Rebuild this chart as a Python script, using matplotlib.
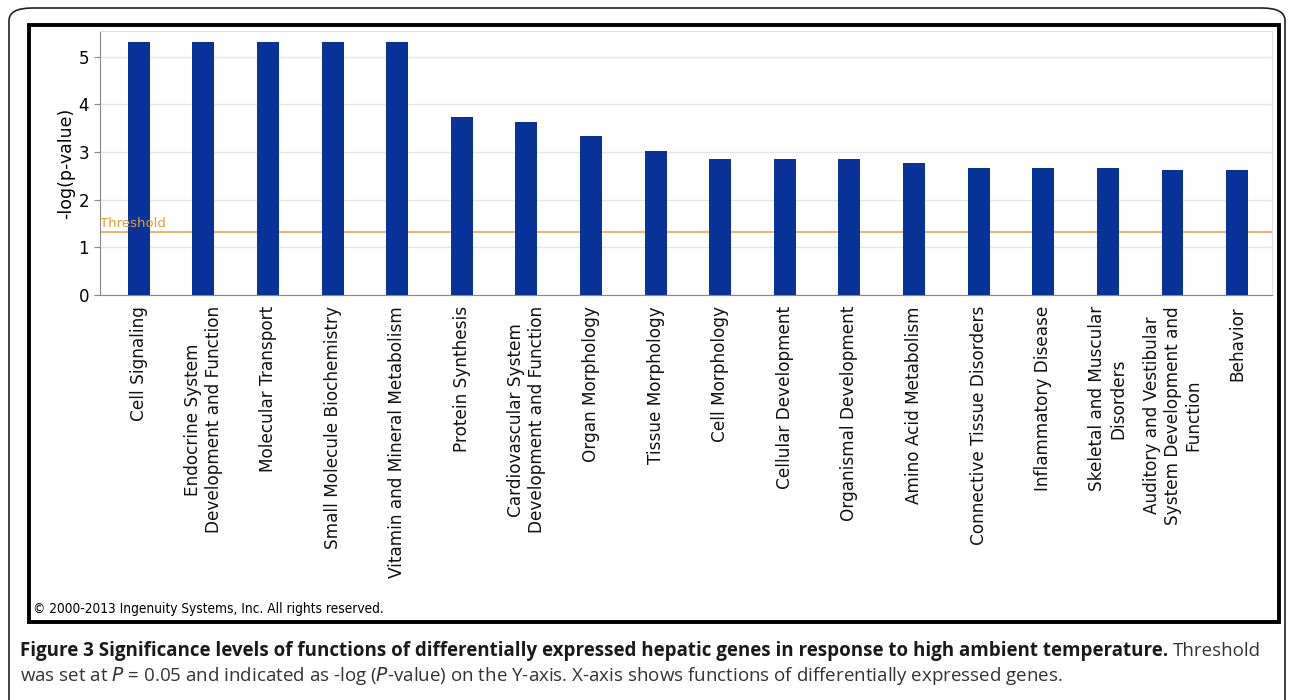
import matplotlib.pyplot as plt
from matplotlib.patches import FancyBboxPatch, Rectangle

# categories and -log(p-value)
functions = [
    "Cell Signaling",
    "Endocrine System\nDevelopment and Function",
    "Molecular Transport",
    "Small Molecule Biochemistry",
    "Vitamin and Mineral Metabolism",
    "Protein Synthesis",
    "Cardiovascular System\nDevelopment and Function",
    "Organ Morphology",
    "Tissue Morphology",
    "Cell Morphology",
    "Cellular Development",
    "Organismal Development",
    "Amino Acid Metabolism",
    "Connective Tissue Disorders",
    "Inflammatory Disease",
    "Skeletal and Muscular\nDisorders",
    "Auditory and Vestibular\nSystem Development and\nFunction",
    "Behavior",
]
neglogp = [5.30, 5.30, 5.30, 5.30, 5.30, 3.74, 3.63, 3.33, 3.02, 2.86,
           2.86, 2.86, 2.76, 2.67, 2.67, 2.67, 2.63, 2.63]
threshold = 1.32
yticks = [0, 1, 2, 3, 4, 5]

W, H = 1290, 700
fig = plt.figure(figsize=(W / 100, H / 100), dpi=100)

# outer rounded frame and inner black frame
outer = FancyBboxPatch((9 / W, 1 - 740 / H), 1276 / W, 732 / H,
                       boxstyle="round,pad=0,rounding_size=0.018",
                       transform=fig.transFigure, fill=False,
                       ec="#222222", lw=1.2)
fig.patches.append(outer)
inner = Rectangle((29 / W, 1 - 622 / H), 1250 / W, 597 / H,
                  transform=fig.transFigure, fill=False, ec="black", lw=2.8)
fig.patches.append(inner)

ax = fig.add_axes([100 / W, 1 - 295 / H, 1172 / W, 264 / H])
x = list(range(len(functions)))
ax.bar(x, neglogp, width=0.34, color="#0a3399", zorder=3)
ax.axhline(threshold, color="#e8b060", lw=1.3, zorder=2)
ax.text(-0.6, threshold + 0.05, "Threshold", color="#e0a030", fontsize=9.5,
        ha="left", va="bottom", zorder=4)

ax.set_xlim(-0.6, 17.54)
ax.set_ylim(0, 5.54)
ax.set_yticks(yticks)
ax.yaxis.grid(True, color="#e6e6e6", lw=1, zorder=0)
ax.set_xticks(x)
ax.set_xticklabels(functions, rotation=90, ha="center", va="top",
                   multialignment="center", fontsize=12.2, color="#111111")
ax.tick_params(axis="x", length=0, pad=8)
ax.tick_params(axis="y", length=4, color="#888888", labelsize=12, pad=4)
for s in ["left", "bottom"]:
    ax.spines[s].set_color("#888888")
for s in ["top", "right"]:
    ax.spines[s].set_color("#e0e0e0")
ax.set_ylabel("-log(p-value)", fontsize=12.5, labelpad=2)

fig.text(33 / W, 1 - 609 / H,
         "\u00a9 2000-2013 Ingenuity Systems, Inc. All rights reserved.",
         fontsize=9.8, va="center", ha="left", fontstretch="condensed",
         family=["DejaVu Sans"])

# caption: bold title then regular text on the same line
cap_y1 = 1 - 651 / H
cap_y2 = 1 - 676 / H
cap_fs = 13.5
t1 = fig.text(20 / W, cap_y1,
              "Figure 3 Significance levels of functions of differentially "
              "expressed hepatic genes in response to high ambient temperature.",
              fontsize=cap_fs, fontweight="bold", va="center", ha="left",
              color="#1a1a1a", family=["Open Sans", "DejaVu Sans"])
fig.canvas.draw()
bb = t1.get_window_extent()
fig.text((bb.x1 + 5) / W, cap_y1, "Threshold", fontsize=cap_fs, va="center",
         ha="left", color="#333333", family=["Open Sans", "DejaVu Sans"])
fig.text(20 / W, cap_y2,
         "was set at $P$ = 0.05 and indicated as -log ($P$-value) on the Y-axis. "
         "X-axis shows functions of differentially expressed genes.",
         fontsize=cap_fs, va="center", ha="left", color="#333333",
         family=["Open Sans", "DejaVu Sans"])

fig.savefig("out.png", dpi=100)
